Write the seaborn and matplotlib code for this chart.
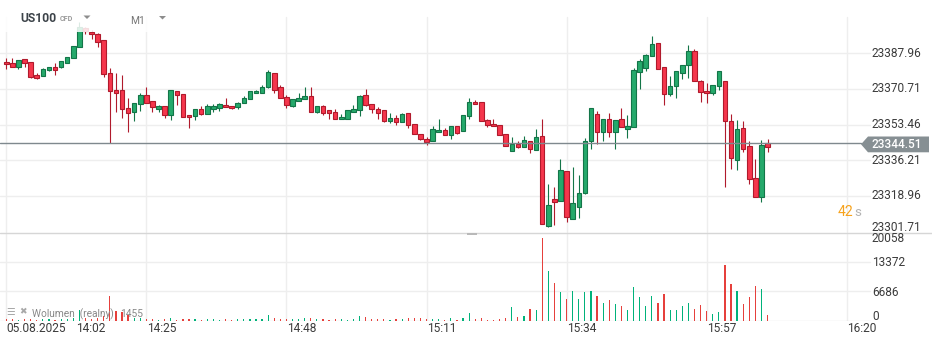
import numpy as np
import pandas as pd
import matplotlib
matplotlib.use("Agg")
import matplotlib.pyplot as plt
import matplotlib.transforms as mtransforms
from matplotlib.patches import Rectangle, Polygon
from matplotlib.lines import Line2D
import seaborn as sns

# ---------------- data (US100, M1 candles from 14:02) ----------------
opens = [23383.6, 23383.1, 23381.2, 23385.1, 23383.6, 23377.3, 23377.1, 23379.7, 23381.2, 23381.5,
         23383.1, 23385.5, 23391.2, 23400.2, 23398.4, 23397.2, 23394.3, 23378.3, 23370.1, 23370.1,
         23361.3, 23359.4, 23363.3, 23367.6, 23364.7, 23360.8, 23362.3, 23358.2, 23369.6, 23368.1,
         23357.9, 23357.4, 23360.8, 23358.7, 23361.1, 23361.6, 23362.8, 23362.3, 23361.8, 23363.7,
         23365.7, 23368.6, 23368.6, 23371.5, 23378.3, 23371.5, 23366.7, 23362.6, 23364.7, 23365.7,
         23367.2, 23359.7, 23362.3, 23360.3, 23359.4, 23356.0, 23356.3, 23359.7, 23360.3, 23367.6,
         23363.3, 23360.8, 23360.3, 23355.0, 23356.5, 23354.5, 23358.9, 23353.6, 23348.7, 23346.3,
         23345.3, 23349.7, 23350.6, 23348.2, 23352.6, 23350.1, 23357.4, 23364.2, 23364.2, 23355.6,
         23353.6, 23353.1, 23348.7, 23340.5, 23343.9, 23342.4, 23345.3, 23340.9, 23347.8, 23304.1,
         23317.2, 23316.3, 23330.8, 23307.5, 23313.6, 23320.4, 23345.6, 23358.4, 23350.0, 23356.0,
         23350.0, 23356.0, 23351.4, 23352.4, 23378.8, 23380.7, 23386.5, 23392.8, 23381.2, 23368.1,
         23372.0, 23378.3, 23382.2, 23388.9, 23374.4, 23369.6, 23368.6, 23372.0, 23374.4, 23355.0,
         23336.1, 23351.6, 23342.9, 23327.4, 23318.2, 23344.4]
highs = [23385.5, 23385.5, 23384.6, 23385.1, 23383.6, 23378.3, 23380.7, 23381.2, 23383.1, 23384.1,
         23386.0, 23391.4, 23403.1, 23400.7, 23399.3, 23397.7, 23394.3, 23380.7, 23378.3, 23377.5,
         23366.2, 23363.7, 23368.6, 23371.5, 23364.7, 23362.9, 23362.3, 23370.3, 23369.6, 23368.1,
         23357.9, 23360.8, 23362.3, 23363.3, 23363.3, 23363.7, 23366.2, 23362.3, 23364.2, 23367.2,
         23369.6, 23370.2, 23372.7, 23379.9, 23378.3, 23372.5, 23367.6, 23365.7, 23368.9, 23371.8,
         23371.5, 23362.3, 23362.8, 23360.3, 23360.8, 23358.4, 23360.3, 23362.8, 23367.6, 23370.5,
         23363.3, 23361.8, 23360.3, 23358.9, 23357.9, 23358.9, 23358.9, 23353.6, 23348.7, 23347.3,
         23352.6, 23356.0, 23351.6, 23352.6, 23352.6, 23357.9, 23366.2, 23365.2, 23364.2, 23356.0,
         23356.0, 23353.1, 23348.7, 23347.3, 23345.3, 23347.8, 23345.3, 23351.1, 23356.0, 23324.5,
         23323.0, 23336.6, 23330.8, 23332.9, 23329.0, 23346.8, 23361.3, 23360.0, 23356.0, 23358.9,
         23355.6, 23361.3, 23357.9, 23380.7, 23385.2, 23387.6, 23396.4, 23392.8, 23381.2, 23377.0,
         23379.2, 23382.2, 23392.0, 23389.9, 23374.9, 23373.4, 23372.5, 23379.2, 23374.4, 23358.4,
         23355.6, 23355.0, 23345.3, 23336.6, 23345.8, 23346.3]
lows = [23380.5, 23381.2, 23380.2, 23381.2, 23375.9, 23375.7, 23377.1, 23379.3, 23377.6, 23381.0,
        23383.1, 23385.5, 23391.2, 23397.3, 23394.9, 23391.2, 23376.6, 23344.7, 23359.7, 23356.5,
        23350.0, 23355.3, 23359.9, 23363.7, 23359.7, 23359.4, 23356.5, 23355.8, 23362.8, 23357.0,
        23351.6, 23355.6, 23358.1, 23358.7, 23359.7, 23360.2, 23361.8, 23360.8, 23361.1, 23363.7,
        23365.7, 23368.6, 23368.6, 23371.0, 23368.9, 23366.2, 23361.3, 23361.8, 23364.7, 23365.7,
        23359.7, 23359.2, 23358.2, 23356.3, 23356.0, 23356.0, 23356.3, 23359.7, 23357.7, 23362.3,
        23358.8, 23356.3, 23354.9, 23354.0, 23353.4, 23354.5, 23351.6, 23348.7, 23345.8, 23343.4,
        23345.3, 23349.7, 23348.2, 23346.6, 23348.7, 23350.1, 23356.0, 23363.3, 23355.0, 23352.1,
        23352.6, 23348.2, 23342.9, 23340.5, 23341.9, 23342.4, 23339.5, 23340.9, 23305.1, 23303.6,
        23304.6, 23316.3, 23306.1, 23307.5, 23308.0, 23319.9, 23341.7, 23344.0, 23345.6, 23347.6,
        23341.4, 23352.1, 23347.1, 23352.1, 23370.8, 23379.2, 23386.5, 23380.2, 23362.8, 23367.1,
        23366.2, 23375.4, 23376.1, 23374.4, 23364.2, 23363.7, 23367.6, 23370.0, 23323.0, 23331.8,
        23331.3, 23340.0, 23324.8, 23318.2, 23315.8, 23340.0]
closes = [23382.6, 23381.2, 23384.6, 23383.1, 23376.6, 23376.2, 23380.2, 23381.2, 23380.0, 23384.1,
          23386.0, 23391.4, 23400.9, 23398.8, 23397.2, 23393.6, 23377.8, 23369.6, 23368.9, 23360.8,
          23358.9, 23363.7, 23367.6, 23363.7, 23361.8, 23362.3, 23357.9, 23370.3, 23367.6, 23357.0,
          23357.0, 23360.8, 23358.7, 23362.3, 23362.3, 23363.3, 23361.8, 23361.3, 23363.7, 23366.2,
          23369.6, 23369.7, 23371.8, 23378.8, 23370.3, 23366.2, 23362.8, 23365.7, 23366.2, 23367.2,
          23359.7, 23362.3, 23359.2, 23359.2, 23356.0, 23357.0, 23360.3, 23360.8, 23367.1, 23362.8,
          23360.8, 23359.2, 23355.4, 23356.5, 23354.5, 23358.4, 23353.1, 23348.7, 23346.3, 23344.8,
          23351.1, 23350.6, 23348.2, 23352.6, 23349.2, 23357.9, 23364.2, 23363.3, 23355.0, 23353.1,
          23352.6, 23348.2, 23342.9, 23343.9, 23342.4, 23345.8, 23341.4, 23347.3, 23305.1, 23314.3,
          23315.8, 23331.3, 23308.5, 23315.3, 23320.1, 23345.3, 23361.3, 23350.0, 23356.0, 23349.7,
          23355.6, 23352.1, 23352.6, 23379.7, 23384.1, 23387.0, 23392.3, 23380.2, 23368.1, 23372.0,
          23379.2, 23382.2, 23388.9, 23374.4, 23369.1, 23368.6, 23372.5, 23379.2, 23355.0, 23337.1,
          23351.1, 23341.4, 23326.9, 23318.2, 23343.4, 23342.4]
volumes = [450, 380, 300, 380, 520, 300, 450, 380, 300, 380,
           450, 750, 2480, 600, 450, 680, 1200, 5650, 2260, 2030,
           1350, 750, 750, 450, 380, 300, 450, 680, 300, 450,
           380, 450, 300, 380, 450, 300, 380, 300, 380, 450,
           520, 380, 450, 1350, 600, 450, 380, 450, 520, 600,
           680, 380, 450, 300, 380, 450, 300, 380, 1130, 980,
           450, 380, 520, 300, 450, 380, 600, 680, 750, 530,
           530, 530, 300, 750, 300, 750, 1810, 530, 750, 300,
           300, 530, 750, 3160, 980, 1200, 2710, 2490, 18830, 11300,
           8660, 6630, 5050, 6850, 5050, 6630, 6850, 5720, 4140, 4820,
           3920, 3460, 2490, 7760, 5500, 3460, 5720, 4140, 6180, 2490,
           2490, 3460, 4140, 2790, 3690, 2330, 1660, 2110, 12730, 8430,
           6850, 3920, 5500, 7980, 7300, 1455]

price_ticks = [23387.96, 23370.71, 23353.46, 23336.21, 23318.96, 23301.71]
price_tick_labels = ["23387.96", "23370.71", "23353.46", "23336.21", "23318.96", "23301.71"]
vol_ticks = [20058, 13372, 6686, 0]
vol_tick_labels = ["20058", "13372", "6686", "0"]
time_tick_minutes = [23, 46, 69, 92, 115, 138]
time_tick_labels = ["14:25", "14:48", "15:11", "15:34", "15:57", "16:20"]
date_label = "05.08.2025"
first_time_label = "14:02"
last_price = 23344.51
last_volume_label = "1455"
countdown = "42"

# ---------------- styling ----------------
W, H = 932, 346
sns.set_theme(style="white")
plt.rcParams['font.family'] = ['Roboto', 'DejaVu Sans']

G_FILL, G_EDGE = "#25a96b", "#137548"
R_FILL, R_EDGE = "#f5364c", "#b01a2c"
V_GREEN, V_RED = "#00b27a", "#e6403c"
GRID = "#eeeeee"
LABEL = "#3b3b3b"

fig = plt.figure(figsize=(W / 100, H / 100), dpi=100)
fig.patch.set_facecolor("white")


def fx(px):
    return px / W


def fy(py):
    return 1 - py / H


X0, DX = 6.3, 6.09
xlim = ((0 - X0) / DX, (W - X0) / DX)
P_TOP, P_BOT = 23413.8, 23301.37
PLOT_RIGHT = 870 / W

ax = fig.add_axes([0, fy(232), 1, 232 / H])
axv = fig.add_axes([0, fy(321), 1, (321 - 232) / H])

n = len(opens)
idx = np.arange(n)
o = np.array(opens); h = np.array(highs); l = np.array(lows); c = np.array(closes)
up = c >= o
bb = np.minimum(o, c)
bh = np.maximum(np.abs(c - o), 0.45)

# grid
for p in price_ticks[:-1]:
    ax.axhline(p, xmin=0, xmax=PLOT_RIGHT, color=GRID, lw=1.0, zorder=0)
for m in [0] + time_tick_minutes:
    ax.axvline(m, ymin=0, ymax=(232 - 17) / 232, color=GRID, lw=1.0, zorder=0)
    axv.axvline(m, color=GRID, lw=1.0, zorder=0)
for v in vol_ticks[1:3]:
    axv.axhline(v, xmin=0, xmax=PLOT_RIGHT, color=GRID, lw=1.0, zorder=0)
axv.axhline(0, xmin=0, xmax=PLOT_RIGHT, color="#e6e6e6", lw=1.0, zorder=0)

# candles
ax.vlines(idx[up], l[up], h[up], color=G_EDGE, lw=0.8, zorder=2)
ax.vlines(idx[~up], l[~up], h[~up], color=R_EDGE, lw=0.8, zorder=2)
ax.bar(idx[up], bh[up], bottom=bb[up], width=0.74, color=G_FILL, edgecolor=G_EDGE,
       linewidth=0.8, zorder=3)
ax.bar(idx[~up], bh[~up], bottom=bb[~up], width=0.74, color=R_FILL, edgecolor=R_EDGE,
       linewidth=0.8, zorder=3)

# last price line
ax.axhline(last_price, xmin=0, xmax=861 / W, color="#7f898e", lw=1.0, zorder=4)

ax.set_xlim(*xlim)
ax.set_ylim(P_BOT, P_TOP)
ax.set_axis_off()

# volume bars with seaborn
df = pd.DataFrame({"minute": idx, "volume": volumes,
                   "dir": np.where(up, "up", "down")})
sns.barplot(data=df, x="minute", y="volume", hue="dir",
            palette={"up": V_GREEN, "down": V_RED}, native_scale=True,
            width=0.2, saturation=1, errorbar=None, legend=False,
            linewidth=0, ax=axv, zorder=2)
axv.set_xlim(*xlim)
axv.set_ylim(0, 20080)
axv.set_axis_off()

# ---------------- figure-level decorations ----------------
# header overlay (fades candles under the symbol bar)
fig.add_artist(Rectangle((0, fy(32)), fx(185), 32 / H, transform=fig.transFigure,
                         facecolor="white", edgecolor="none", alpha=0.85, zorder=1))

# separator between panes
fig.add_artist(Line2D([0, 1], [fy(232.5), fy(232.5)], transform=fig.transFigure,
                      color="#d6d6d6", lw=1.0, zorder=2))
fig.add_artist(Rectangle((fx(467), fy(235)), fx(10), 2 / H, transform=fig.transFigure,
                         facecolor="#b9b9b9", edgecolor="none", zorder=2))

# price axis labels
trans_p = mtransforms.blended_transform_factory(fig.transFigure, ax.transData)
for p, lab in zip(price_ticks[:-1], price_tick_labels[:-1]):
    fig.text(fx(872), 0, lab, transform=trans_p, fontsize=8.6, color=LABEL,
             va="center", ha="left").set_y(p)
fig.text(fx(872), fy(227.5), price_tick_labels[-1], fontsize=8.6, color=LABEL,
         va="center", ha="left")

# last price tag
tag_pts = [(fx(861), fy(144.3)), (fx(868), fy(136.5)), (fx(929), fy(136.5)),
           (fx(929), fy(152.3)), (fx(868), fy(152.3))]
fig.add_artist(Polygon(tag_pts, closed=True, transform=fig.transFigure,
                       facecolor="#868f93", edgecolor="none", zorder=3))
fig.text(fx(871.5), fy(144.6), f"{last_price:.2f}", fontsize=8.6, color="white",
         fontweight="medium", va="center", ha="left", zorder=4)

# volume axis labels
for lab, ypx in zip(vol_tick_labels, [239, 262.5, 292, 316.5]):
    fig.text(fx(872), fy(ypx), lab, fontsize=8.6, color=LABEL, va="center", ha="left")

# time labels
fig.text(fx(6), fy(328.5), date_label, fontsize=8.6, color=LABEL, va="center", ha="left")
fig.text(fx(76), fy(328.5), first_time_label, fontsize=8.6, color=LABEL, va="center", ha="left")
for m, lab in zip(time_tick_minutes, time_tick_labels):
    fig.text(fx(X0 + DX * m + 0.5), fy(328.5), lab, fontsize=8.6, color=LABEL,
             va="center", ha="left")

# countdown
fig.text(fx(837.5), fy(212), countdown, fontsize=10, color="#f7a21b", va="center", ha="left")
fig.text(fx(854.5), fy(212.5), "s", fontsize=9.6, color="#b3b3b3", va="center", ha="left")

# header
fig.text(fx(20), fy(18), "US100", fontsize=8.7, fontweight="bold", color="#3c4349",
         va="center", ha="left", zorder=5)
fig.text(fx(60), fy(19), "CFD", fontsize=5.2, fontweight="bold", color="#9a9a9a",
         va="center", ha="left", zorder=5)
fig.add_artist(Polygon([(fx(83.5), fy(15.5)), (fx(90.5), fy(15.5)), (fx(87), fy(19))],
                       closed=True, transform=fig.transFigure, facecolor="#8d8d8d",
                       edgecolor="none", zorder=5))
fig.text(fx(130.5), fy(20.5), "M1", fontsize=7.4, color="#767676",
         va="center", ha="left", zorder=5)
fig.add_artist(Polygon([(fx(159), fy(16)), (fx(166), fy(16)), (fx(162.5), fy(19.5))],
                       closed=True, transform=fig.transFigure, facecolor="#8d8d8d",
                       edgecolor="none", zorder=5))

# volume legend
fig.text(fx(6), fy(312), "\u2630", fontsize=7, color="#a8a8a8", va="center", ha="left",
         family=["DejaVu Sans"], zorder=5)
fig.text(fx(19.5), fy(312), "\u2716", fontsize=6.5, color="#a8a8a8", va="center", ha="left",
         family=["DejaVu Sans"], zorder=5)
fig.text(fx(32), fy(314), "Wolumen  (realny)", fontsize=7.3, color="#888888",
         va="center", ha="left", zorder=5)
fig.text(fx(120.5), fy(314), last_volume_label, fontsize=7.3, color="#888888",
         va="center", ha="left", zorder=5)

fig.savefig("out.png", dpi=100, facecolor="white")
